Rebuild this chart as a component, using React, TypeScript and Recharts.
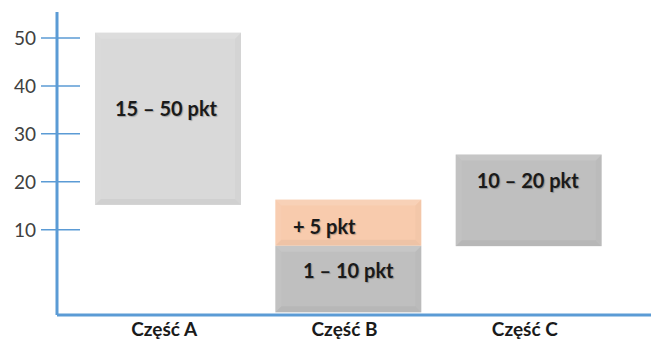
import React from 'react';
import { BarChart, Bar, XAxis, YAxis, Cell, LabelList } from 'recharts';

// values (range bars, low..high on the point scale)
const categories = ['Część A', 'Część B', 'Część C'];
const mainLow = [15.2, -7.2, 6.6];
const mainHigh = [51.1, 6.7, 25.7];
const bonusLow = [null, 6.7, null];
const bonusHigh = [null, 16.3, null];
const mainLabels = ['15 – 50 pkt', '1 – 10 pkt', '10 – 20 pkt'];
const bonusLabels = ['', '+ 5 pkt', ''];
const yTicks = [10, 20, 30, 40, 50];

const data = categories.map((name, i) => ({
  name,
  main: [mainLow[i], mainHigh[i]],
  bonus: bonusLow[i] == null ? null : [bonusLow[i], bonusHigh[i]],
  mainLabel: mainLabels[i],
  bonusLabel: bonusLabels[i],
}));

const FONT = 'Lato, "Noto Sans", sans-serif';
const AXIS = '#5b9bd5';
const MAIN_FILLS = ['#d9d9d9', '#bfbfbf', '#bfbfbf'];
const BONUS_FILL = '#f8cbad';
const BAR_W = 146;

// where the text sits inside each box (fraction of box height, x shift)
const MAIN_TEXT = [{ fy: 0.44, dx: -2 }, { fy: 0.37, dx: 0 }, { fy: 0.28, dx: -1 }];
const BONUS_TEXT = { fy: 0.57, dx: -24 };

const Bevel = (props: any) => {
  const { x, y, width, height, fill } = props;
  if (!height || height <= 0) return null;
  const b = 6;
  return (
    <g>
      <rect x={x} y={y} width={width} height={height} fill={fill} />
      <polygon points={`${x},${y} ${x + width},${y} ${x + width - b},${y + b} ${x + b},${y + b}`} fill="#fff" opacity={0.12} />
      <polygon points={`${x},${y} ${x + b},${y + b} ${x + b},${y + height - b} ${x},${y + height}`} fill="#fff" opacity={0.05} />
      <polygon points={`${x + width},${y} ${x + width},${y + height} ${x + width - b},${y + height - b} ${x + width - b},${y + b}`} fill="#000" opacity={0.02} />
      <polygon points={`${x},${y + height} ${x + width},${y + height} ${x + width - b},${y + height - b} ${x + b},${y + height - b}`} fill="#000" opacity={0.04} />
    </g>
  );
};

const boxText = (place: (i: number) => { fy: number; dx: number }) => (props: any) => {
  const { x, y, width, height, value, index } = props;
  if (!value) return null;
  const p = place(index);
  return (
    <text
      x={x + width / 2 + p.dx}
      y={y + height * p.fy}
      textAnchor="middle"
      dominantBaseline="central"
      fill="#1a1a1a"
      fontFamily={FONT}
      fontWeight={700}
      fontSize={20}
      style={{ textShadow: '1px 1px 1px rgba(0,0,0,0.25)' }}
    >
      {value}
    </text>
  );
};

const YTick = (props: any) => {
  const { x, y, payload } = props;
  return (
    <g>
      <line x1={x - 16} x2={x + 23} y1={y} y2={y} stroke={AXIS} strokeWidth={1.5} />
      <text x={x - 21} y={y} textAnchor="end" dominantBaseline="central" fill="#404040" fontFamily={FONT} fontSize={19}>
        {payload.value}
      </text>
    </g>
  );
};

const XTick = (props: any) => {
  const { x, y, payload } = props;
  return (
    <text x={x - 4} y={y + 13} textAnchor="middle" dominantBaseline="central" fill="#1a1a1a" fontFamily={FONT} fontWeight={700} fontSize={19}>
      {payload.value}
    </text>
  );
};

export default function App() {
  return (
    <div style={{ width: 651, height: 339, background: '#fff' }}>
      <style>{`body{margin:0}`}</style>
      <BarChart
        width={651}
        height={339}
        data={data}
        margin={{ top: 12, right: 0, bottom: 0, left: 0 }}
        barSize={BAR_W}
        barGap={-BAR_W}
      >
        <XAxis
          dataKey="name"
          height={24}
          padding={{ left: 21, right: 32 }}
          axisLine={{ stroke: AXIS, strokeWidth: 3 }}
          tickLine={false}
          tickSize={0}
          tickMargin={0}
          tick={<XTick />}
        />
        <YAxis
          width={57}
          domain={[-7.75, 55.4]}
          ticks={yTicks}
          allowDataOverflow
          axisLine={{ stroke: AXIS, strokeWidth: 3 }}
          tickLine={false}
          tickSize={0}
          tickMargin={0}
          tick={<YTick />}
        />
        <Bar dataKey="main" isAnimationActive={false} shape={<Bevel />}>
          {data.map((d, i) => (
            <Cell key={d.name} fill={MAIN_FILLS[i]} />
          ))}
          <LabelList dataKey="mainLabel" content={boxText((i) => MAIN_TEXT[i])} />
        </Bar>
        <Bar dataKey="bonus" fill={BONUS_FILL} isAnimationActive={false} shape={<Bevel />}>
          <LabelList dataKey="bonusLabel" content={boxText(() => BONUS_TEXT)} />
        </Bar>
      </BarChart>
    </div>
  );
}
